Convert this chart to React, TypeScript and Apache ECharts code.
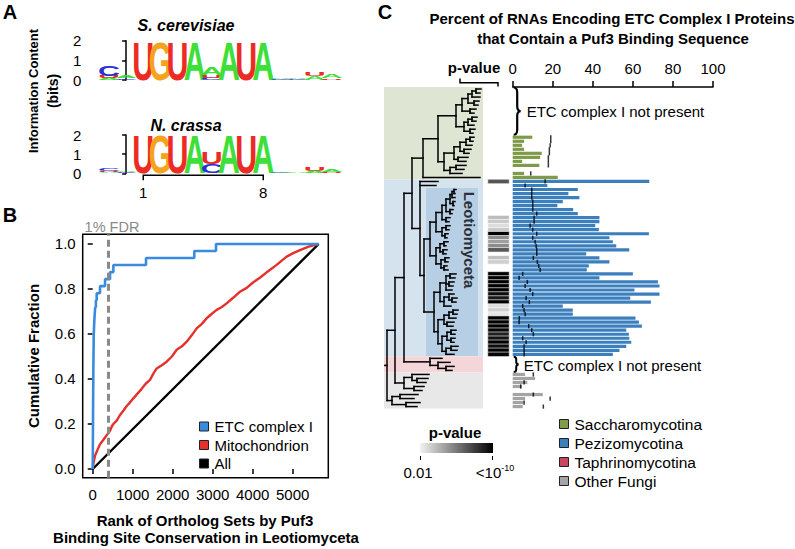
import React, { useEffect, useRef } from "react";
import * as echarts from "echarts";

const FONT = "'Liberation Sans', Arial, Helvetica, sans-serif";

/* ================= Panel A : sequence logos ================= */
// [position, letter, bits] stacked bottom-up per position
const logoTicks = [0, 1, 2];
const motifEnds = [1, 8];
const scerLogo: [number, string, number][] = [
  [-1, "A", 0.1], [-1, "U", 0.12], [-1, "C", 0.55],
  [0, "C", 0.08], [0, "A", 0.12],
  [1, "U", 1.98], [2, "G", 1.98], [3, "U", 1.98], [4, "A", 1.98],
  [5, "C", 0.12], [5, "U", 0.15], [5, "A", 0.4],
  [6, "A", 1.98], [7, "U", 1.98], [8, "A", 1.98],
  [9, "C", 0.04], [9, "A", 0.07],
  [10, "C", 0.04], [10, "A", 0.07],
  [11, "A", 0.18], [11, "U", 0.2],
  [12, "U", 0.08], [12, "A", 0.18],
];
const ncraLogo: [number, string, number][] = [
  [-1, "A", 0.05], [-1, "U", 0.07], [-1, "C", 0.13],
  [0, "C", 0.04], [0, "A", 0.06],
  [1, "U", 1.98], [2, "G", 1.98], [3, "U", 1.98], [4, "A", 1.98],
  [5, "C", 0.45], [5, "U", 0.65],
  [6, "A", 1.98], [7, "U", 1.98], [8, "A", 1.98],
  [9, "C", 0.03], [9, "A", 0.05],
  [10, "A", 0.05],
  [11, "A", 0.12], [11, "U", 0.18],
  [12, "U", 0.06], [12, "A", 0.16],
];

/* ================= Panel B : cumulative fractions ================= */
const rankTicks = [0, 1000, 2000, 3000, 4000, 5000];
const fracTicks = [0, 0.2, 0.4, 0.6, 0.8, 1.0];
const fdrRank = 400;
const etcTotal = 32;
const etcRanks = [1, 3, 4, 5, 6, 7, 8, 9, 10, 11, 12, 14, 15, 16, 18, 20, 22, 24, 26,
  32, 40, 50, 62, 80, 100, 183, 308, 433, 517, 1333, 2540, 3083];
const rankMax = 5650;
const mitoCurve = [
  [0, 0], [30, 0.035], [60, 0.06], [120, 0.085], [183, 0.11], [250, 0.125], [308, 0.14],
  [370, 0.155], [433, 0.17], [480, 0.19], [517, 0.2], [600, 0.215], [683, 0.24], [770, 0.26],
  [850, 0.28], [930, 0.295], [1017, 0.314], [1120, 0.335], [1220, 0.355], [1330, 0.38],
  [1433, 0.396], [1520, 0.425], [1600, 0.447], [1720, 0.46], [1850, 0.477], [1980, 0.5],
  [2100, 0.53], [2230, 0.545], [2350, 0.566], [2480, 0.595], [2600, 0.625], [2730, 0.645],
  [2850, 0.67], [2980, 0.69], [3100, 0.707], [3230, 0.72], [3350, 0.736], [3520, 0.762],
  [3683, 0.788], [3850, 0.805], [4017, 0.83], [4180, 0.85], [4350, 0.874], [4470, 0.89],
  [4600, 0.907], [4720, 0.925], [4850, 0.944], [5000, 0.958], [5183, 0.973], [5400, 0.988],
  [5640, 1],
];
const allLine = [[0, 0], [rankMax, 1]];

/* ================= Panel C : tree, p-values, percentages ================= */
const ROWS = 80;
const cladeNames = ["Saccharomycotina", "Pezizomycotina", "Taphrinomycotina", "Other Fungi"];
const cladeRows = [[0, 22], [23, 66], [67, 70], [71, 79]];
const leotiomycetaRows = [24.6, 66.4];
const notPresentRows = [[0, 11], [67, 70]];
const barTicks = [0, 20, 40, 60, 80, 100];

const saccharStart = 12;
const saccharPct = [9.8, 5.7, 4.7, 5.7, 14.5, 13.7, 4.7, 13.3, 0, 5.7, 22.5];
const saccharExp = [19, 19, 18.7, 18.3, 18.3, 17.8, 17.8, 17.8, null, 9, null];

const peziStart = 23;
const peziPct = [68.2, 17.3, 32.5, 27.8, 33.3, 25, 22.3, 30.2, 32.5, 43.3, 43.3, 41.2, 43, 68,
  48.3, 50, 51.7, 58.2, 36.7, 43.3, 48.3, 38, 37, 60, 43.3, 72.5, 73.3, 60.8, 73.3, 58.7, 69,
  25, 30, 30, 61.3, 63, 64.5, 56.7, 58, 58.2, 59.2, 56.7, 53.3, 50];
const peziExp = [16.2, 6.2, 9.5, 9.5, 9.5, 10, 10, 10, 12, 10.7, 10.7, 8.7, 10, 12, 10, 11.2,
  11.7, 12, 12, 10.3, 12.3, 13, 13.7, 5, 3.2, 7.3, 6.2, 8.7, 10, 6.7, 8.3, 5, 5.7, 6.2, 3.3,
  3.2, 8, 9.5, 10.3, 5, 6.7, 5.7, 5.7, 5.7];
// -log10(p) of binding-site enrichment (null = not significant)
const peziPval = [7.3, null, null, null, null, null, null, null, null, 4.1, 3.7, 3.1, 3.7, 10,
  5.6, 5.0, 5.6, 7.2, null, 4.0, 3.5, null, null, 10, 10, 10, 10, 10, 9.6, 9.2, 10, 3.0, 3.5,
  2.8, 10, 10, 10, 9.8, 9.0, 9.4, 10, 9.6, 10, 9.8];
const pvalRange = [2, 10];

const otherStart = 71;
const otherPct = [6.2, 11.2, 7.3, 4.5, 0, 15, 6.2, 5.3, 5];
const otherExp = [10.3, null, 5.7, 4, null, 10.3, 18.7, 5.7, 15.3];

// nested tree: [nodeDepth, ...children]; leaf = tip depth (leaves in row order)
const fungalTree: any = [3,
  [11,
    [20,
      [28,
        [39,
          [54,
            [72, [78, [84, [88, [92, 97, 96], 96], [90, 95, 94]], [86, 92, 90]],
              [80, [84, [88, 93, 92], 90], [86, 91, 89]]],
            [60, [70, [76, [82, [86, 90, 89], 88], [80, 87, 85]], [74, 84, 82]],
              [66, [72, 82, 80], 78]],
          ],
          96,
        ],
        [36, 54, 52,
          [40,
            [46,
              [52, [58, [62, [66, [68, [70, 72, 71], 71], [69, 71, 70]], [66, 69, 68]], [62, 66, 65]],
                [58, [62, 66, 65], [61, 64, 63]]],
              [52, [56, [60, 64, 62], [59, 63, 62]], [57, [61, 65, 64], [60, 63, 64]]],
            ],
            [50,
              [56, [62, [66, 72, 71], [65, 70, 69], 68], [60, [65, 70, [68, 73, 72]], 67]],
              [54, [60, [65, [69, 74, 73], 72], [63, 70, 69]],
                [58, [63, [67, 72, 71], [67, 71, 70]], [62, [67, 74, 73], 70]]],
            ],
          ],
        ],
      ],
      [46, 58, [54, 66, [62, 70, 68]]],
    ],
    [20, [28, 45, [33, 44, 42]], [30, 40, 38]],
  ],
  [8, [16, 34, 30], [22, 36, 33]],
];

/* ================= helpers ================= */
function stackLogo(entries: [number, string, number][]) {
  const tops: Record<number, number> = {};
  return entries.map(([pos, letter, bits]) => {
    const y0 = tops[pos] || 0;
    const y1 = y0 + bits;
    tops[pos] = y1;
    return { pos, letter, y0, y1 };
  });
}

function layoutTree(root: any) {
  const segs: number[][] = [];
  let leaf = 0;
  const walk = (node: any, parentX: number): number => {
    if (typeof node === "number") {
      const y = leaf++;
      segs.push([parentX, y, node, y]);
      return y;
    }
    const [x, ...kids] = node;
    const ys = kids.map((k: any) => walk(k, x));
    const y = (ys[0] + ys[ys.length - 1]) / 2;
    segs.push([x, ys[0], x, ys[ys.length - 1]]);
    segs.push([parentX, y, x, y]);
    return y;
  };
  walk(root, 0.8);
  return segs;
}

function bracePath(x: number, top: number, bot: number, w: number) {
  const mid = (top + bot) / 2;
  const xm = x + w / 2;
  const r = Math.min(5, (bot - top) / 6);
  return `M${x},${top} Q${xm},${top} ${xm},${top + r} L${xm},${mid - r} Q${xm},${mid} ${x + w},${mid} ` +
    `Q${xm},${mid} ${xm},${mid + r} L${xm},${bot - r} Q${xm},${bot} ${x},${bot}`;
}

const LETTER_COLORS: Record<string, string> = { A: "#3ddf38", U: "#ec2a26", G: "#f5a31d", C: "#2a31d4" };
const CLADE_COLORS = ["#7f9b4a", "#3b7fbd", "#c8475c", "#a4a4a4"];
const CLADE_BG = ["#dee5d2", "#d5e3ef", "#f4d5d8", "#e8e8e8"];
const LEO_BG = "#b7cfe5";

function txt(text: string, x: number, y: number, extra: any = {}, rot = 0) {
  return {
    type: "text", x, y, rotation: rot, z: 100,
    style: {
      text, fontFamily: FONT, fontSize: 15, fill: "#000",
      align: "center", verticalAlign: "middle", textAlign: "center", textVerticalAlign: "middle",
      ...extra,
    },
  };
}

function buildOption() {
  const rowNames = Array.from({ length: ROWS }, (_, i) => String(i));
  const scer = stackLogo(scerLogo);
  const ncra = stackLogo(ncraLogo);
  const treeSegs = layoutTree(fungalTree);

  const logoRender = (stack: any[]) => (params: any, api: any) => {
    const it = stack[params.dataIndex];
    const pb = api.coord([it.pos, it.y0]);
    const pt = api.coord([it.pos, it.y1]);
    const h = pb[1] - pt[1];
    if (h < 0.5) return null;
    const F = 40;
    const colW = api.size([1, 0])[0];
    return {
      type: "text", x: pb[0], y: (pb[1] + pt[1]) / 2,
      scaleX: (colW * 1.1) / (0.62 * F), scaleY: h / (0.716 * F),
      style: {
        text: it.letter, fontSize: F, fontWeight: "bold", fontFamily: FONT,
        fill: LETTER_COLORS[it.letter], align: "center", verticalAlign: "middle",
      },
    };
  };

  const etcData = [[0, 0], ...etcRanks.map((r, i) => [r, (i + 1) / etcTotal]), [rankMax, 1]];

  const series: any[] = [];
  // ---- Panel B
  series.push({
    name: "All", type: "line", xAxisIndex: 0, yAxisIndex: 0, data: allLine, symbol: "none",
    color: "#000", lineStyle: { color: "#000", width: 2.4 },
    markLine: {
      silent: true, symbol: ["none", "none"], label: { show: false },
      lineStyle: { color: "#8a8a8a", type: [7, 4], width: 3 },
      data: [{ xAxis: fdrRank }],
    },
  });
  series.push({
    name: "Mitochondrion", type: "line", xAxisIndex: 0, yAxisIndex: 0, data: mitoCurve,
    symbol: "none", color: "#e4312b", lineStyle: { color: "#e4312b", width: 2.4 },
  });
  series.push({
    name: "ETC complex I", type: "line", step: "end", xAxisIndex: 0, yAxisIndex: 0, data: etcData,
    symbol: "none", color: "#3a8be0", lineStyle: { color: "#3a8be0", width: 2.6 },
  });
  // ---- Panel A logos
  series.push({
    type: "custom", xAxisIndex: 1, yAxisIndex: 1, data: scer.map((s) => [s.pos, s.y0, s.y1]),
    encode: { x: 0, y: [1, 2] }, renderItem: logoRender(scer), silent: true,
  });
  series.push({
    type: "custom", xAxisIndex: 2, yAxisIndex: 2, data: ncra.map((s) => [s.pos, s.y0, s.y1]),
    encode: { x: 0, y: [1, 2] }, renderItem: logoRender(ncra), silent: true,
  });
  series.push({
    type: "custom", xAxisIndex: 2, yAxisIndex: 2, data: [motifEnds], silent: true,
    encode: { x: [0, 1] },
    renderItem: (params: any, api: any) => {
      const a = api.coord([api.value(0), 0]);
      const b = api.coord([api.value(1), 0]);
      const y = a[1] + 2;
      return {
        type: "group",
        children: [
          { type: "polyline", shape: { points: [[a[0], y + 5], [a[0], y], [b[0], y], [b[0], y + 5]] },
            style: { stroke: "#000", lineWidth: 1.5, fill: null } },
          { type: "text", x: a[0], y: y + 17, style: { text: String(api.value(0)), fontSize: 15, fontFamily: FONT, fill: "#000", align: "center", verticalAlign: "middle" } },
          { type: "text", x: b[0], y: y + 17, style: { text: String(api.value(1)), fontSize: 15, fontFamily: FONT, fill: "#000", align: "center", verticalAlign: "middle" } },
        ],
      };
    },
  });
  // ---- Panel C tree backgrounds + tree
  const bgData = [
    ...cladeRows.map((r, i) => [r[0] - 0.5, r[1] + 0.5, i]),
    [leotiomycetaRows[0], leotiomycetaRows[1], 4],
  ];
  series.push({
    type: "custom", xAxisIndex: 3, yAxisIndex: 3, data: bgData, silent: true, z: 1,
    encode: { y: [0, 1] },
    renderItem: (params: any, api: any) => {
      const idx = api.value(2);
      const inner = idx === 4;
      const p0 = api.coord([inner ? 42 : 0, api.value(0)]);
      const p1 = api.coord([inner ? 94 : 99, api.value(1)]);
      return {
        type: "rect",
        shape: { x: p0[0], y: p0[1], width: p1[0] - p0[0], height: p1[1] - p0[1] },
        style: { fill: inner ? LEO_BG : CLADE_BG[idx] },
      };
    },
  });
  series.push({
    type: "custom", xAxisIndex: 3, yAxisIndex: 3, data: treeSegs, silent: true, z: 3,
    encode: { x: [0, 2], y: [1, 3] },
    renderItem: (params: any, api: any) => {
      const p1 = api.coord([api.value(0), api.value(1)]);
      const p2 = api.coord([api.value(2), api.value(3)]);
      return {
        type: "line", shape: { x1: p1[0], y1: p1[1], x2: p2[0], y2: p2[1] },
        style: { stroke: "#000", lineWidth: 1.5, lineCap: "square" },
      };
    },
  });
  // ---- heatmap of p-values
  const heatIndex = series.length;
  series.push({
    type: "heatmap", xAxisIndex: 4, yAxisIndex: 4, silent: true,
    itemStyle: { borderColor: "#ffffff", borderWidth: 0.6 },
    data: peziPval.map((v, i) => (v == null ? null : [0, peziStart + i, v])).filter(Boolean),
  });
  // ---- bars
  const barCommon = {
    type: "bar", xAxisIndex: 5, yAxisIndex: 5, barWidth: 3.2, barGap: "-100%", silent: true,
  };
  series.push({ ...barCommon, name: cladeNames[0], color: CLADE_COLORS[0],
    data: saccharPct.map((v, i) => [v, saccharStart + i]) });
  series.push({ ...barCommon, name: cladeNames[1], color: CLADE_COLORS[1],
    data: peziPct.map((v, i) => [v, peziStart + i]) });
  series.push({ ...barCommon, name: cladeNames[2], color: CLADE_COLORS[2], data: [] });
  series.push({ ...barCommon, name: cladeNames[3], color: CLADE_COLORS[3],
    data: otherPct.map((v, i) => [v, otherStart + i]) });
  const marks: number[][] = [];
  saccharExp.forEach((v, i) => v != null && marks.push([v, saccharStart + i]));
  peziExp.forEach((v, i) => v != null && marks.push([v, peziStart + i]));
  otherExp.forEach((v, i) => v != null && marks.push([v, otherStart + i]));
  series.push({
    type: "scatter", xAxisIndex: 5, yAxisIndex: 5, data: marks, symbol: "rect",
    symbolSize: [1.5, 4.2], color: "#000", silent: true, z: 5,
  });
  series.push({
    type: "custom", xAxisIndex: 5, yAxisIndex: 5, data: notPresentRows, silent: true,
    encode: { y: [0, 1] },
    renderItem: (params: any, api: any) => {
      const band = api.size([0, 1])[1];
      const a = api.coord([0, api.value(0)]);
      const b = api.coord([0, api.value(1)]);
      const top = a[1] - band / 2 + 0.5;
      const bot = b[1] + band / 2 - 0.5;
      const x0 = a[0] + 1;
      const big = bot - top > 30;
      return {
        type: "group",
        children: [
          { type: "path", shape: { pathData: bracePath(x0, top, bot, big ? 7 : 5) },
            style: { stroke: "#000", fill: null, lineWidth: big ? 2.2 : 2 } },
          { type: "text", x: x0 + (big ? 13 : 10), y: (top + bot) / 2 + (big ? 0 : 1),
            style: { text: "ETC complex I not present", fontSize: 15, fontFamily: FONT, fill: "#000",
              align: "left", verticalAlign: "middle" } },
        ],
      };
    },
  });

  const hidden = { show: false };
  const tickStyle = { lineStyle: { color: "#000", width: 1.5 } };
  const lbl = { color: "#000", fontSize: 15, fontFamily: FONT };

  const ROW_TOP = 87, ROW_H = 321.6;

  return {
    animation: false,
    backgroundColor: "#ffffff",
    textStyle: { fontFamily: FONT },
    grid: [
      { left: 82.7, top: 234.3, width: 245.6, height: 243.4, show: true, borderColor: "#000", borderWidth: 1.5, backgroundColor: "transparent" },
      { left: 100.4, top: 40.7, width: 240, height: 39.3 },
      { left: 100.4, top: 135, width: 240, height: 38.3 },
      { left: 384, top: ROW_TOP, width: 99, height: ROW_H },
      { left: 488, top: ROW_TOP, width: 21, height: ROW_H },
      { left: 512.7, top: ROW_TOP, width: 200.3, height: ROW_H },
    ],
    xAxis: [
      { gridIndex: 0, type: "value", min: -250, max: 5891, axisLine: hidden, splitLine: hidden,
        axisTick: { show: true, length: 5, customValues: rankTicks, ...tickStyle },
        axisLabel: { ...lbl, margin: 9, customValues: rankTicks, formatter: (v: number) => String(v) } },
      { gridIndex: 1, type: "value", min: -1.5, max: 12.5, show: false },
      { gridIndex: 2, type: "value", min: -1.5, max: 12.5, show: false },
      { gridIndex: 3, type: "value", min: 0, max: 99, show: false },
      { gridIndex: 4, type: "category", data: ["p"], show: false },
      { gridIndex: 5, type: "value", min: 0, max: 100, interval: 20, position: "top",
        axisLine: { show: true, lineStyle: { color: "#000", width: 1.5 } },
        axisTick: { show: true, length: 6, ...tickStyle }, splitLine: hidden,
        axisLabel: { ...lbl, margin: 11, customValues: barTicks } },
    ],
    yAxis: [
      { gridIndex: 0, type: "value", min: -0.0387, max: 1.043, axisLine: hidden, splitLine: hidden,
        axisTick: { show: true, length: 5, customValues: fracTicks, ...tickStyle },
        axisLabel: { ...lbl, margin: 7, customValues: fracTicks, formatter: (v: number) => v.toFixed(1) } },
      { gridIndex: 1, type: "value", min: 0, max: 2, interval: 1, offset: 13,
        axisLine: { show: true, lineStyle: { color: "#000", width: 1.5 } },
        axisTick: { show: true, length: 4, customValues: logoTicks, ...tickStyle }, splitLine: hidden,
        axisLabel: { ...lbl, margin: 6, customValues: logoTicks } },
      { gridIndex: 2, type: "value", min: 0, max: 2, interval: 1, offset: 13,
        axisLine: { show: true, lineStyle: { color: "#000", width: 1.5 } },
        axisTick: { show: true, length: 4, customValues: logoTicks, ...tickStyle }, splitLine: hidden,
        axisLabel: { ...lbl, margin: 6, customValues: logoTicks } },
      { gridIndex: 3, type: "value", min: -0.5, max: ROWS - 0.5, inverse: true, show: false },
      { gridIndex: 4, type: "category", data: rowNames, inverse: true, show: false },
      { gridIndex: 5, type: "category", data: rowNames, inverse: true, show: false },
    ],
    visualMap: [{
      type: "continuous", show: false, seriesIndex: heatIndex, min: pvalRange[0], max: pvalRange[1],
      dimension: 2, inRange: { color: ["#ffffff", "#000000"] },
    }],
    legend: [
      { data: ["ETC complex I", "Mitochondrion", "All"], orient: "vertical", left: 194, top: 414,
        icon: "rect", itemWidth: 9, itemHeight: 9, itemGap: 3.5, selectedMode: false,
        itemStyle: { borderColor: "#222", borderWidth: 1 },
        textStyle: { fontSize: 15, color: "#000", fontFamily: FONT, padding: [0, 0, 0, 1] } },
      { data: cladeNames, orient: "vertical", left: 554, top: 411,
        icon: "rect", itemWidth: 9, itemHeight: 9, itemGap: 3, selectedMode: false,
        itemStyle: { borderColor: "#222", borderWidth: 1 },
        textStyle: { fontSize: 15.5, color: "#000", fontFamily: FONT, padding: [0, 0, 0, 1] } },
    ],
    graphic: [
      txt("A", 10, 12, { fontSize: 20, fontWeight: "bold" }),
      txt("B", 10, 215, { fontSize: 20, fontWeight: "bold" }),
      txt("C", 385, 12, { fontSize: 20, fontWeight: "bold" }),
      txt("S. cerevisiae", 186, 25, { fontWeight: "bold", fontStyle: "italic", fontSize: 16 }),
      txt("N. crassa", 186, 125, { fontWeight: "bold", fontStyle: "italic", fontSize: 16 }),
      txt("Information Content", 33, 91, { fontWeight: "bold", fontSize: 13 }, Math.PI / 2),
      txt("(bits)", 53, 91, { fontWeight: "bold", fontSize: 14 }, Math.PI / 2),
      txt("1% FDR", 112, 227, { fill: "#8a8a8a", fontSize: 14.5 }),
      txt("Cumulative Fraction", 33, 356, { fontWeight: "bold" }, Math.PI / 2),
      txt("Rank of Ortholog Sets by Puf3", 205, 520, { fontWeight: "bold" }),
      txt("Binding Site Conservation in Leotiomyceta", 206, 537, { fontWeight: "bold" }),
      txt("Percent of RNAs Encoding ETC Complex I Proteins", 612, 18, { fontWeight: "bold" }),
      txt("that Contain a Puf3 Binding Sequence", 613, 38, { fontWeight: "bold" }),
      txt("p-value", 474, 67, { fontWeight: "bold" }),
      { type: "polyline", z: 100, shape: { points: [[460, 78.5], [460, 82.7], [498, 82.7], [498, 86.5]] },
        style: { stroke: "#000", lineWidth: 1.5, fill: null } },
      txt("Leotiomyceta", 469, 240, { fontWeight: "bold", fill: "#2b2f36" }, -Math.PI / 2),
      txt("p-value", 455, 432, { fontWeight: "bold" }),
      { type: "rect", z: 100, shape: { x: 420, y: 443, width: 73, height: 10 },
        style: { fill: new echarts.graphic.LinearGradient(0, 0, 1, 0, [
          { offset: 0, color: "#f2f2f2" }, { offset: 1, color: "#000000" }]) } },
      { type: "line", z: 100, shape: { x1: 420.5, y1: 456, x2: 420.5, y2: 460 }, style: { stroke: "#000", lineWidth: 1 } },
      { type: "line", z: 100, shape: { x1: 492.5, y1: 456, x2: 492.5, y2: 460 }, style: { stroke: "#000", lineWidth: 1 } },
      txt("0.01", 418, 472),
      { type: "text", x: 495, y: 472, z: 100,
        style: { text: "{a|<10}{b|-10}", fontFamily: FONT, align: "center", verticalAlign: "middle",
          textAlign: "center", textVerticalAlign: "middle",
          rich: { a: { fontSize: 15, fontFamily: FONT, fill: "#000" },
                  b: { fontSize: 9, fontFamily: FONT, fill: "#000", padding: [0, 0, 8, 0] } } } },
    ],
    series,
  };
}

export default function App() {
  const ref = useRef<HTMLDivElement>(null);
  useEffect(() => {
    if (!ref.current) return;
    const chart = echarts.init(ref.current, undefined, { renderer: "svg" });
    chart.setOption(buildOption() as any);
    return () => chart.dispose();
  }, []);
  return (
    <div
      ref={ref}
      style={{ position: "fixed", left: 0, top: 0, width: 795, height: 549, background: "#fff" }}
    />
  );
}
